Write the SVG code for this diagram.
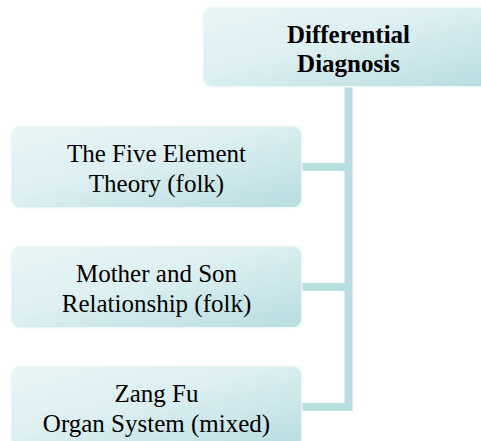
<svg xmlns="http://www.w3.org/2000/svg" width="481" height="441" viewBox="0 0 481 441">
  <defs>
    <linearGradient id="boxFill" x1="0" y1="0" x2="1" y2="1">
      <stop offset="0" stop-color="#e9f5f6"/>
      <stop offset="0.45" stop-color="#dcefF1"/>
      <stop offset="1" stop-color="#b7dce0"/>
    </linearGradient>
    <style>
      .box { fill: url(#boxFill); }
      .halo { fill: none; stroke: #eef7f8; stroke-width: 3; }
      .link { fill: none; stroke: #b9dfe2; stroke-width: 8; stroke-linejoin: miter; }
      .lbl { font-family: "Liberation Serif", "Times New Roman", serif; font-size: 25px; fill: #000; text-anchor: middle; }
      .bold { font-weight: bold; }
    </style>
  </defs>

  <rect width="481" height="441" fill="#ffffff"/>

  <!-- connectors -->
  <g id="connectors">
    <path class="link" d="M348.5,86 V407 H300"/>
    <path class="link" d="M348.5,167 H300"/>
    <path class="link" d="M348.5,287 H300"/>
  </g>

  <!-- root node -->
  <g id="differential-diagnosis">
    <rect class="halo" x="204" y="8" width="289" height="78" rx="8"/>
    <rect class="box" x="204" y="8" width="289" height="78" rx="8"/>
    <text class="lbl bold" x="348.5" y="43">Differential</text>
    <text class="lbl bold" x="348.5" y="72">Diagnosis</text>
  </g>

  <!-- child nodes -->
  <g id="five-element-theory">
    <rect class="halo" x="12" y="127" width="289" height="80" rx="8"/>
    <rect class="box" x="12" y="127" width="289" height="80" rx="8"/>
    <text class="lbl" x="156.5" y="162">The Five Element</text>
    <text class="lbl" x="156.5" y="192">Theory (folk)</text>
  </g>

  <g id="mother-and-son">
    <rect class="halo" x="12" y="247" width="289" height="80" rx="8"/>
    <rect class="box" x="12" y="247" width="289" height="80" rx="8"/>
    <text class="lbl" x="156.5" y="282">Mother and Son</text>
    <text class="lbl" x="156.5" y="312">Relationship (folk)</text>
  </g>

  <g id="zang-fu">
    <rect class="halo" x="12" y="367" width="289" height="80" rx="8"/>
    <rect class="box" x="12" y="367" width="289" height="80" rx="8"/>
    <text class="lbl" x="156.5" y="402">Zang Fu</text>
    <text class="lbl" x="156.5" y="432">Organ System (mixed)</text>
  </g>
</svg>
